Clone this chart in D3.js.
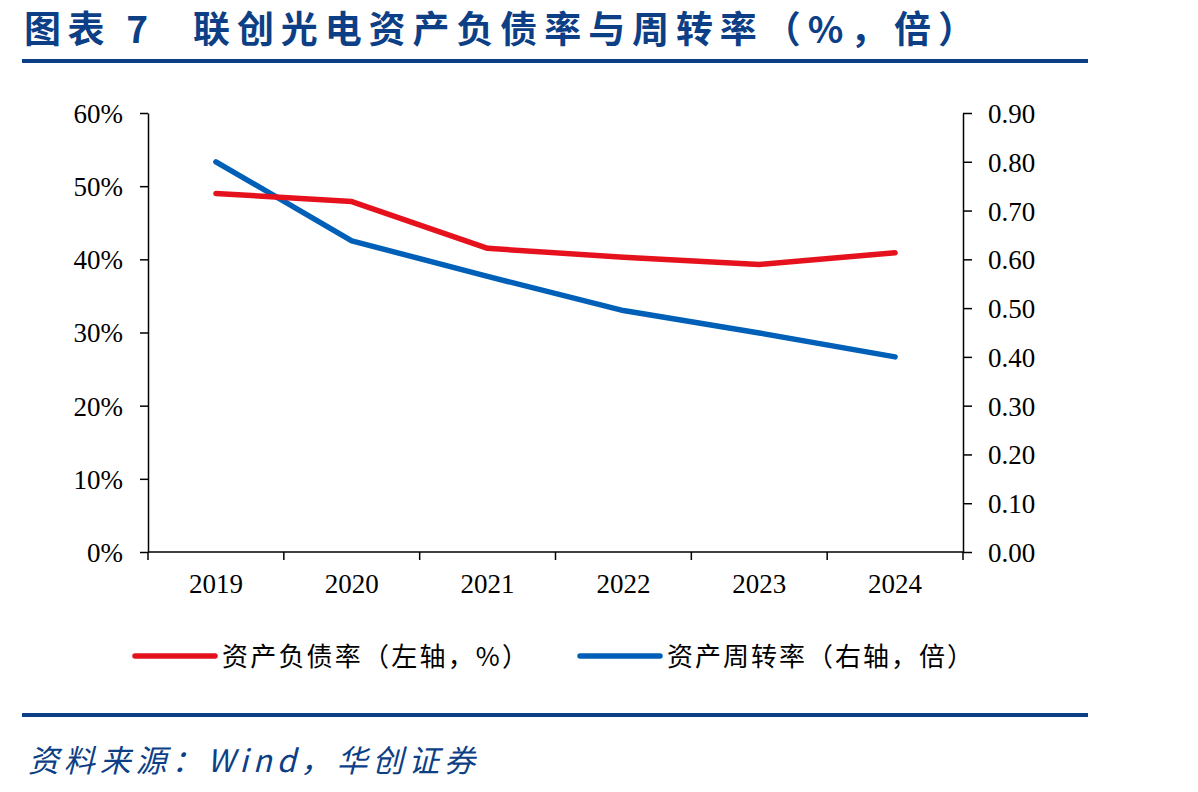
<!DOCTYPE html>
<html>
<head>
<meta charset="utf-8">
<script src="https://cdn.jsdelivr.net/npm/d3@7/dist/d3.min.js"></script>
<style>
  body { margin: 0; background: #fff; }
  svg { display: block; }
</style>
</head>
<body>
<div id="chart"></div>
<script>
// chart data
const years = ['2019', '2020', '2021', '2022', '2023', '2024'];
const debtRatio = [49.0, 47.9, 41.5, 40.3, 39.3, 40.9];   // left axis, %
const turnover = [0.80, 0.638, 0.565, 0.495, 0.449, 0.400]; // right axis, times
const leftTicks = [0, 10, 20, 30, 40, 50, 60];
const rightTicks = [0, 0.1, 0.2, 0.3, 0.4, 0.5, 0.6, 0.7, 0.8, 0.9];

const W = 1198, H = 792;
const navy = '#0d3f86';
const red = '#e5121e';
const blue = '#0060b8';
const cjk = '"Noto Sans CJK SC", sans-serif';
const serif = '"Liberation Serif", "Times New Roman", serif';

const svg = d3.select('#chart').append('svg')
  .attr('width', W).attr('height', H);

// title (two pieces, stretched to the reference width) and the rule under it
const titleParts = [
  { text: '图表 7', x: 24, len: 124 },
  { text: '联创光电资产负债率与周转率（%，倍）', x: 193, len: 782 }
];
svg.append('g').selectAll('text').data(titleParts).join('text')
  .attr('x', d => d.x).attr('y', 43)
  .attr('textLength', d => d.len).attr('lengthAdjust', 'spacing')
  .attr('fill', navy)
  .style('white-space', 'pre')
  .style('font-family', cjk)
  .style('font-weight', 'bold')
  .style('font-size', '37px')
  .text(d => d.text);
svg.append('rect').attr('x', 22).attr('y', 59).attr('width', 1066).attr('height', 4).attr('fill', navy);

// plot area
const plot = { left: 148, right: 963, top: 113, bottom: 552 };
const x = d3.scaleBand().domain(years).range([plot.left, plot.right]);
const yL = d3.scaleLinear().domain([0, 60]).range([plot.bottom, plot.top]);
const yR = d3.scaleLinear().domain([0, 0.9]).range([plot.bottom, plot.top]);

function styleAxis(g) {
  g.selectAll('path, line').attr('stroke', '#000').attr('stroke-width', 1.5);
  g.selectAll('text')
    .attr('fill', '#000')
    .style('font-family', serif)
    .style('font-size', '27px');
}

// x axis (ticks at band edges)
const xg = svg.append('g').attr('transform', `translate(0,${plot.bottom})`)
  .call(d3.axisBottom(x).tickSize(0).tickPadding(22));
xg.select('.domain').remove();
styleAxis(xg);
svg.append('line').attr('x1', plot.left).attr('x2', plot.right).attr('y1', plot.bottom).attr('y2', plot.bottom)
  .attr('stroke', '#000').attr('stroke-width', 1.5);
svg.append('g').selectAll('line')
  .data(years.slice(1))
  .join('line')
  .attr('x1', d => x(d)).attr('x2', d => x(d))
  .attr('y1', plot.bottom).attr('y2', plot.bottom + 8)
  .attr('stroke', '#000').attr('stroke-width', 1.5);

// left axis
const lg = svg.append('g').attr('transform', `translate(${plot.left},0)`)
  .call(d3.axisLeft(yL).tickValues(leftTicks).tickSize(8).tickSizeOuter(0).tickPadding(17)
    .tickFormat(d => d + '%'));
styleAxis(lg);
lg.selectAll('text').attr('dy', '0.35em');
svg.append('line').attr('x1', plot.left).attr('x2', plot.left).attr('y1', plot.bottom).attr('y2', plot.bottom + 8)
  .attr('stroke', '#000').attr('stroke-width', 1.5);

// right axis
const rg = svg.append('g').attr('transform', `translate(${plot.right},0)`)
  .call(d3.axisRight(yR).tickValues(rightTicks).tickSize(9).tickSizeOuter(0).tickPadding(16)
    .tickFormat(d3.format('.2f')));
styleAxis(rg);
rg.selectAll('text').attr('dy', '0.35em');
svg.append('line').attr('x1', plot.right).attr('x2', plot.right).attr('y1', plot.bottom).attr('y2', plot.bottom + 8)
  .attr('stroke', '#000').attr('stroke-width', 1.5);

// lines
const cx = d => x(d) + x.bandwidth() / 2;
const debtLine = d3.line().x((d, i) => cx(years[i])).y(d => yL(d));
const turnLine = d3.line().x((d, i) => cx(years[i])).y(d => yR(d));

svg.append('path').datum(turnover)
  .attr('d', turnLine)
  .attr('fill', 'none').attr('stroke', blue).attr('stroke-width', 5.5)
  .attr('stroke-linecap', 'round').attr('stroke-linejoin', 'round');
svg.append('path').datum(debtRatio)
  .attr('d', debtLine)
  .attr('fill', 'none').attr('stroke', red).attr('stroke-width', 5.5)
  .attr('stroke-linecap', 'round').attr('stroke-linejoin', 'round');

// legend
const legendItems = [
  { label: '资产负债率（左轴，%）', color: red, x: 135 },
  { label: '资产周转率（右轴，倍）', color: blue, x: 580 }
];
const lgd = svg.append('g').selectAll('g').data(legendItems).join('g')
  .attr('transform', d => `translate(${d.x},656)`);
lgd.append('line')
  .attr('x1', 0).attr('x2', 80).attr('y1', 0).attr('y2', 0)
  .attr('stroke', d => d.color).attr('stroke-width', 5.5).attr('stroke-linecap', 'round');
lgd.append('text')
  .attr('x', 87).attr('y', 10)
  .attr('textLength', 306).attr('lengthAdjust', 'spacing')
  .attr('fill', '#000')
  .style('font-family', cjk)
  .style('font-size', '26px')
  .text(d => d.label);

// bottom rule and source note
svg.append('rect').attr('x', 22).attr('y', 713).attr('width', 1066).attr('height', 4).attr('fill', navy);
svg.append('text')
  .attr('x', 28).attr('y', 772)
  .attr('textLength', 447).attr('lengthAdjust', 'spacing')
  .attr('fill', navy)
  .style('font-family', cjk)
  .style('font-style', 'italic')
  .style('font-size', '31px')
  .text('资料来源：Wind，华创证券');
</script>
</body>
</html>
